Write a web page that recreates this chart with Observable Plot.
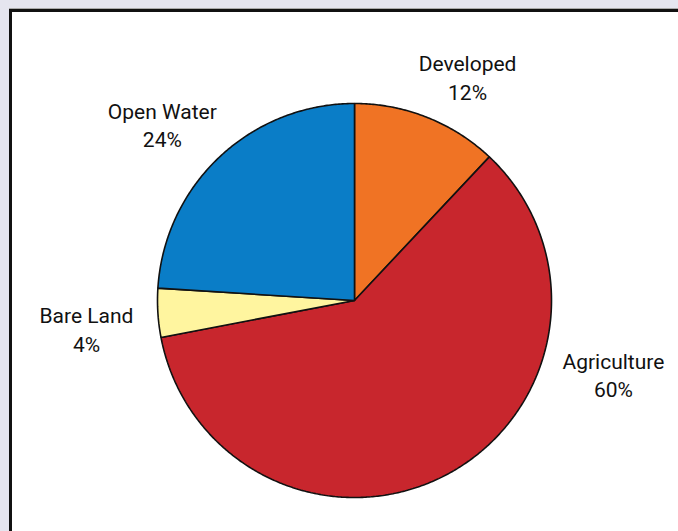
<!DOCTYPE html>
<html>
<head>
<meta charset="utf-8">
<script src="https://cdn.jsdelivr.net/npm/d3@7"></script>
<script src="https://cdn.jsdelivr.net/npm/@observablehq/plot@0.6"></script>
<style>
  html, body { margin: 0; padding: 0; }
  body { width: 678px; height: 531px; background: #e5e5ef; position: relative; overflow: hidden; }
  #panel { position: absolute; left: 9px; top: 9px; right: -10px; bottom: -10px; background: #fff;
           border-top: 3px solid #111; border-left: 3px solid #111; box-shadow: 0 -1px 0 #aaa; }
  #chart { position: absolute; left: 0; top: 0; }
</style>
</head>
<body>
<div id="panel"></div>
<div id="chart"></div>
<script>
// ---- data ----
const categories = ["Developed", "Agriculture", "Bare Land", "Open Water"];
const percents = [12, 60, 4, 24];
const sliceColors = ["#f07324", "#c8262d", "#fff59f", "#0a7dc7"];

// ---- layout ----
const W = 678, H = 531;
const cx = 354, cy = 300, R = 197;
// label anchors in polar form (degrees clockwise from 12 o'clock, px from centre)
const labelPolar = {
  "Developed": [27, 249],
  "Agriculture": [106.2, 269.6],
  "Bare Land": [263.6, 269.7],
  "Open Water": [312.3, 259.8]
};

const rows = categories.map((name, i) => ({name, pct: percents[i]}));
const arcs = d3.pie().sort(null).value(d => d.pct)(rows);

const ringPts = [];
for (const a of arcs) {
  const n = Math.max(2, Math.ceil((a.endAngle - a.startAngle) / (Math.PI / 360)));
  ringPts.push({name: a.data.name, x: 0, y: 0});
  for (let k = 0; k <= n; k++) {
    const t = a.startAngle + (a.endAngle - a.startAngle) * k / n;
    ringPts.push({name: a.data.name, x: R * Math.sin(t), y: R * Math.cos(t)});
  }
  ringPts.push({name: a.data.name, x: 0, y: 0});
}

const labels = rows.map(d => {
  const [deg, r] = labelPolar[d.name];
  const t = deg * Math.PI / 180;
  return {name: d.name, text: `${d.name}\n${d.pct}%`, x: r * Math.sin(t), y: r * Math.cos(t)};
});

const chart = Plot.plot({
  width: W, height: H,
  margin: 0,
  style: {background: "transparent", overflow: "visible"},
  x: {domain: [-cx, W - cx], range: [0, W], axis: null},
  y: {domain: [-(H - cy), cy], range: [H, 0], axis: null},
  color: {domain: categories, range: sliceColors},
  marks: [
    Plot.line(ringPts, {x: "x", y: "y", z: "name", fill: "name", stroke: "#111", strokeWidth: 1.6, strokeLinejoin: "miter", curve: "linear"}),
    Plot.text(labels, {x: "x", y: "y", text: "text", fontSize: 21, lineHeight: 1.36, dy: -2, fill: "#111",
      fontFamily: "Roboto, sans-serif", textAnchor: "middle", lineAnchor: "middle"})
  ]
});
document.getElementById("chart").appendChild(chart);
</script>
</body>
</html>
